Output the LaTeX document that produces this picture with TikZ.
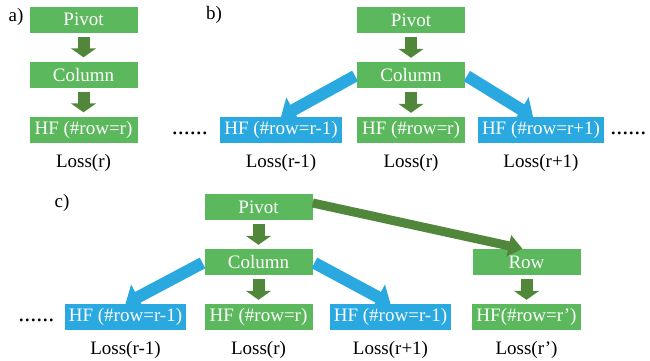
\documentclass[tikz,border=0pt]{standalone}
\usepackage{fontspec}
\setmainfont{Liberation Serif}
\usepackage{tikz}
\usetikzlibrary{arrows.meta, positioning, calc}
\definecolor{boxgreen}{RGB}{92,184,92}
\definecolor{arrowgreen}{RGB}{80,135,58}
\definecolor{hfblue}{RGB}{42,168,224}

\begin{document}
\begin{tikzpicture}[x=1pt,y=-1pt,node distance=55pt,
	box/.style={rectangle,fill=boxgreen,text=white,minimum width=108pt,minimum height=26pt,
		inner xsep=4pt,inner ysep=0pt,font=\fontsize{19}{22}\selectfont},
	hf box/.style={box,fill=hfblue},
	loss/.style={font=\fontsize{19}{22}\selectfont},
	dots/.style={inner sep=0pt,font=\fontsize{24}{24}\selectfont},
	down/.style={draw=arrowgreen,line width=12pt,-{Triangle[width=25pt,length=9pt]},
		shorten <=4pt,shorten >=4pt},
	side/.style={draw=hfblue,line width=12pt,-{Triangle[width=28pt,length=14pt]},shorten <=2pt},
	long/.style={draw=arrowgreen,line width=9pt,-{Triangle[width=21pt,length=14pt]}}]
	
	\useasboundingbox (0,0) rectangle (650,360);
	
	% a)
	\node[loss] (alabel) at (16,17) {a)};
	\node[box] (apivot) at (83.5,19.5) {Pivot};
	\node[box] (acol) [below of=apivot] {Column};
	\node[box] (ahf) [below of=acol] {HF (\#row=r)};
	\node[loss] (aloss) [below of=ahf,node distance=33pt] {Loss(r)};
	
	\draw[down] (apivot) -- (acol);
	\draw[down] (acol) -- (ahf);
	
	% b)
	\node[loss] (blabel) at (214,15) {b)};
	\node[box] (bpivot) at (411,20) {Pivot};
	\node[box] (bcol) [below of=bpivot] {Column};
	\node[box] (bhf) [below of=bcol] {HF (\#row=r)};
	\node[hf box] (bhfl) [left of=bhf,node distance=130pt] {HF (\#row=r-1)};
	\node[hf box] (bhfr) [right of=bhf,node distance=130pt] {HF (\#row=r+1)};
	\node[loss] (bloss) [below of=bhf,node distance=33pt] {Loss(r)};
	\node[loss] (blossl) [below of=bhfl,node distance=33pt] {Loss(r-1)};
	\node[loss] (blossr) [below of=bhfr,node distance=33pt] {Loss(r+1)};
	\node[dots,anchor=base east] (bdotsl) at ($(bhfl.base west)+(-12pt,0)$) {......};
	\node[dots,anchor=base west] (bdotsr) at ($(bhfr.base east)+(6pt,0)$) {......};
	
	\draw[down] (bpivot) -- (bcol);
	\draw[down] (bcol) -- (bhf);
	\draw[side] (bcol.west) -- (bhfl.north);
	\draw[side] (bcol.east) -- ([xshift=-8pt]bhfr.north);
	
	% c)
	\node[loss] (clabel) at (62,203) {c)};
	\node[box] (cpivot) at (258.5,207) {Pivot};
	\node[box] (ccol) [below of=cpivot] {Column};
	\node[box] (chf) [below of=ccol] {HF (\#row=r)};
	\node[hf box] (chfl) [left of=chf,node distance=133pt] {HF (\#row=r-1)};
	\node[hf box] (chfr) [right of=chf,node distance=132pt] {HF (\#row=r-1)};
	\node[box] (crow) [right of=ccol,node distance=268pt] {Row};
	\node[box] (crhf) [below of=crow] {HF(\#row=r')};
	\node[loss] (closs) [below of=chf,node distance=33pt] {Loss(r)};
	\node[loss] (clossl) [below of=chfl,node distance=33pt] {Loss(r-1)};
	\node[loss] (clossr) [below of=chfr,node distance=33pt] {Loss(r+1)};
	\node[loss] (crloss) [below of=crhf,node distance=33pt] {Loss(r')};
	\node[dots,anchor=base east] (cdotsl) at ($(chfl.base west)+(-10pt,0)$) {......};
	
	\draw[down] (cpivot) -- (ccol);
	\draw[down] (ccol) -- (chf);
	\draw[side] (ccol.west) -- (chfl.north);
	\draw[side] (ccol.east) -- (chfr.north);
	\draw[long] ([yshift=4pt]cpivot.east) -- ([xshift=-4pt]crow.north);
	\draw[down] (crow) -- (crhf);
\end{tikzpicture}
\end{document}
